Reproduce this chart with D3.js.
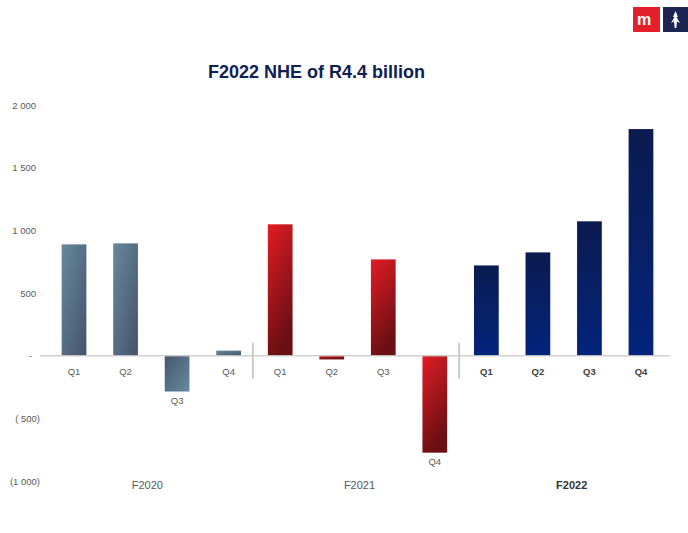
<!DOCTYPE html>
<html>
<head>
<meta charset="utf-8">
<script src="https://cdn.jsdelivr.net/npm/d3@7"></script>
<style>
  body { margin: 0; background: #fff; }
  svg { font-family: Arial, "Liberation Sans", sans-serif; display: block; }
</style>
</head>
<body>
<svg width="688" height="533"></svg>
<script>
// данные графика (млн R)
const years = ['F2020', 'F2021', 'F2022'];
const quarters = ['Q1', 'Q2', 'Q3', 'Q4'];
const nhe2020 = [888, 896, -286, 40];
const nhe2021 = [1048, -30, 768, -774];
const nhe2022 = [720, 824, 1072, 1808];
const yTicks = [-1000, -500, 0, 500, 1000, 1500, 2000];
const title = 'F2022 NHE of R4.4 billion';

const seriesByYear = [nhe2020, nhe2021, nhe2022];

let rows = [];
years.forEach((yr, i) => {
  quarters.forEach((q, j) => {
    rows.push({ year: yr, q: q, key: yr + q, value: seriesByYear[i][j], yi: i });
  });
});

const svg = d3.select('svg');

const attr_area = {
  left: 48.25,
  right: 666.75,
  top: 105,
  bottom: 481
};

const scX = d3.scaleBand()
  .domain(rows.map(d => d.key))
  .range([attr_area.left, attr_area.right])
  .paddingInner(0.52)
  .paddingOuter(0.26);

const scY = d3.scaleLinear()
  .domain([-1000, 2000])
  .range([attr_area.bottom, attr_area.top]);

const y0 = scY(0);

// градиенты
const defs = svg.append('defs');
function addGrad(id, x1, y1, x2, y2, c1, c2) {
  const g = defs.append('linearGradient').attr('id', id)
    .attr('x1', x1).attr('y1', y1).attr('x2', x2).attr('y2', y2);
  g.append('stop').attr('offset', '0%').attr('stop-color', c1);
  g.append('stop').attr('offset', '100%').attr('stop-color', c2);
}
addGrad('gGreyPos', 0, 0, 1, 1, '#66899b', '#45536d');
addGrad('gGreyNeg', 0, 0, 1, 1, '#47566f', '#678b9d');
addGrad('gRed', 0, 0, 0.35, 1, '#e31c25', '#6a0f13');
addGrad('gBlue', 0, 0, 0, 1, '#0b1b4f', '#03247c');

function fillFor(d) {
  if (d.yi === 0) return d.value >= 0 ? 'url(#gGreyPos)' : 'url(#gGreyNeg)';
  if (d.yi === 1) return 'url(#gRed)';
  return 'url(#gBlue)';
}

// заголовок
svg.append('text')
  .attr('x', 316.5)
  .attr('y', 78)
  .attr('text-anchor', 'middle')
  .style('font-size', '18px')
  .style('font-weight', 'bold')
  .style('fill', '#0f2154')
  .text(title);

// ось Y
const fmt = d3.formatLocale({ decimal: '.', thousands: ' ', grouping: [3], currency: ['', ''] }).format(',');
const axisY = d3.axisLeft(scY)
  .tickValues(yTicks)
  .tickSize(0)
  .tickPadding(0)
  .tickFormat(d => {
    if (d === 0) return '-';
    if (d < 0) return '(' + (Math.abs(d) < 1000 ? ' ' : '') + fmt(Math.abs(d)) + ')';
    return fmt(d);
  });

const gY = svg.append('g')
  .attr('transform', 'translate(36,0)')
  .call(axisY);
gY.select('.domain').remove();
gY.selectAll('text')
  .style('font-size', '9.5px')
  .style('font-family', 'Arial, "Liberation Sans", sans-serif')
  .style('fill', '#595959')
  .attr('x', d => d < 0 ? 4 : (d === 0 ? -4 : 0));

// столбцы
svg.selectAll('.bar')
  .data(rows)
  .enter()
  .append('rect')
  .attr('class', 'bar')
  .attr('x', d => scX(d.key))
  .attr('width', scX.bandwidth())
  .attr('y', d => scY(Math.max(0, d.value)))
  .attr('height', d => Math.abs(scY(d.value) - y0))
  .style('fill', d => fillFor(d));

// нулевая линия
svg.append('line')
  .attr('x1', 40).attr('x2', 670)
  .attr('y1', y0).attr('y2', y0)
  .style('stroke', '#c9c9c9')
  .style('stroke-opacity', 0.85)
  .style('stroke-width', 1.5);

// разделители между годами
const step = scX.step();
const gap = step - scX.bandwidth();
[1, 2].forEach(i => {
  const xs = scX(years[i] + 'Q1') - gap / 2 - 1.5;
  svg.append('line')
    .attr('x1', xs).attr('x2', xs)
    .attr('y1', y0 - 13).attr('y2', y0 + 23)
    .style('stroke', '#bdbdbd')
    .style('stroke-width', 1.5);
});

// подписи кварталов
svg.selectAll('.qlabel')
  .data(rows)
  .enter()
  .append('text')
  .attr('class', 'qlabel')
  .attr('x', d => scX(d.key) + scX.bandwidth() / 2)
  .attr('y', d => Math.max(y0 + 19, scY(Math.min(0, d.value)) + 12.5))
  .attr('text-anchor', 'middle')
  .style('font-size', '9.5px')
  .style('font-weight', d => d.yi === 2 ? 'bold' : 'normal')
  .style('fill', d => d.yi === 2 ? '#404040' : '#595959')
  .text(d => d.q);

// подписи годов
svg.selectAll('.ylabel')
  .data(years)
  .enter()
  .append('text')
  .attr('class', 'ylabel')
  .attr('x', (d, i) => {
    const a = scX(d + 'Q1');
    const b = scX(d + 'Q4') + scX.bandwidth();
    return (a + b) / 2 + [-4, 2, 8][i];
  })
  .attr('y', 489)
  .attr('text-anchor', 'middle')
  .style('font-size', '11px')
  .style('font-weight', (d, i) => i === 2 ? 'bold' : 'normal')
  .style('fill', (d, i) => i === 2 ? '#333' : '#595959')
  .text(d => d);

// логотипы
const logo = svg.append('g');
logo.append('rect').attr('x', 633).attr('y', 7).attr('width', 27).attr('height', 25).style('fill', '#e2202b');
logo.append('text')
  .attr('x', 644).attr('y', 25)
  .attr('text-anchor', 'middle')
  .style('font-size', '16px')
  .style('font-weight', 'bold')
  .style('fill', '#fff')
  .text('m');
logo.append('rect').attr('x', 663).attr('y', 7).attr('width', 25).attr('height', 25).style('fill', '#1c2452');
logo.append('path')
  .attr('d', 'M675.5,11 L678,17 L676.5,17 L680,23 L677,21.5 L676.3,28 L674.7,28 L674,21.5 L671,23 L674.5,17 L673,17 Z')
  .style('fill', '#fff');
</script>
</body>
</html>
